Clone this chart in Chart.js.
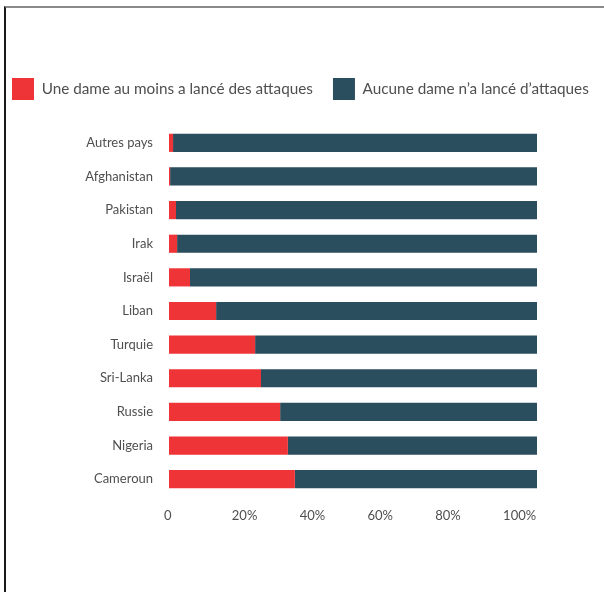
<!DOCTYPE html>
<html>
<head>
<meta charset="utf-8">
<script src="https://cdn.jsdelivr.net/npm/chart.js@4"></script>
<style>
  html, body { margin: 0; padding: 0; background: #fff; }
  #wrap { position: relative; width: 604px; height: 592px; overflow: hidden; }
  #frame {
    position: absolute; left: 4px; top: 6px; right: -2px; bottom: -2px;
    border-top: 2px solid #8a8a8a; border-left: 2px solid #1a1a1a;
  }
  canvas { position: absolute; left: 0; top: 0; }
</style>
</head>
<body>
<div id="wrap">
  <div id="frame"></div>
  <canvas id="chart" width="604" height="592"></canvas>
</div>
<script>
// Pays, du haut vers le bas
const countries = ['Autres pays', 'Afghanistan', 'Pakistan', 'Irak', 'Israël', 'Liban',
                   'Turquie', 'Sri-Lanka', 'Russie', 'Nigeria', 'Cameroun'];
// % d'attaques où au moins une dame a participé
const withWomen = [1.1, 0.3, 1.9, 2.2, 5.7, 12.8, 23.4, 25.0, 30.2, 32.3, 34.2];
const withoutWomen = [98.9, 99.7, 98.1, 97.8, 94.3, 87.2, 76.6, 75.0, 69.8, 67.7, 65.8];
const tickValues = [0, 20, 40, 60, 80, 100];

const seriesNames = ['Une dame au moins a lancé des attaques', 'Aucune dame n\u2019a lancé d\u2019attaques'];
const RED = '#ee3437';
const TEAL = '#2a4e5d';
const TEXT = '#4f4f4f';

// add some space under the legend
const legendGap = {
  id: 'legendGap',
  beforeInit(chart) {
    const fit = chart.legend.fit;
    chart.legend.fit = function () {
      fit.bind(chart.legend)();
      this.height += 16;
    };
  }
};

new Chart(document.getElementById('chart'), {
  type: 'bar',
  data: {
    labels: countries,
    datasets: [
      { label: seriesNames[0], data: withWomen, backgroundColor: RED, xAxisID: 'x' },
      { label: seriesNames[1], data: withoutWomen, backgroundColor: TEAL, xAxisID: 'x' }
    ]
  },
  options: {
    indexAxis: 'y',
    responsive: false,
    animation: false,
    layout: { padding: { top: 58, left: -8, right: -10, bottom: 56 } },
    barPercentage: 0.54,
    categoryPercentage: 1,
    plugins: {
      legend: {
        position: 'top',
        align: 'start',
        labels: {
          boxWidth: 22,
          boxHeight: 22,
          padding: 20,
          color: TEXT,
          font: { family: 'Lato', size: 15.3 }
        }
      },
      tooltip: { enabled: false }
    },
    scales: {
      x: {
        stacked: true,
        min: 0,
        max: 100,
        display: false
      },
      // axe des graduations, décalé comme sur l'original
      xt: {
        type: 'linear',
        position: 'bottom',
        min: 1.47,
        max: 110,
        grid: { display: false },
        border: { display: false },
        afterBuildTicks: axis => { axis.ticks = tickValues.map(v => ({ value: v })); },
        afterFit: axis => { axis.height = 40; },
        ticks: {
          autoSkip: false,
          align: 'start',
          padding: 4,
          color: TEXT,
          font: { family: 'Lato', size: 13 },
          callback: v => v === 0 ? '0' : v + '%'
        }
      },
      y: {
        stacked: true,
        grid: { display: false },
        border: { display: false },
        afterFit: axis => { axis.width = 177; },
        ticks: {
          padding: 8,
          color: TEXT,
          font: { family: 'Lato', size: 13 }
        }
      },
      // marge vide à droite du graphique
      yr: {
        type: 'category',
        position: 'right',
        grid: { display: false },
        border: { display: false },
        ticks: { display: false },
        afterFit: axis => { axis.width = 77; }
      }
    }
  },
  plugins: [legendGap]
});
</script>
</body>
</html>
